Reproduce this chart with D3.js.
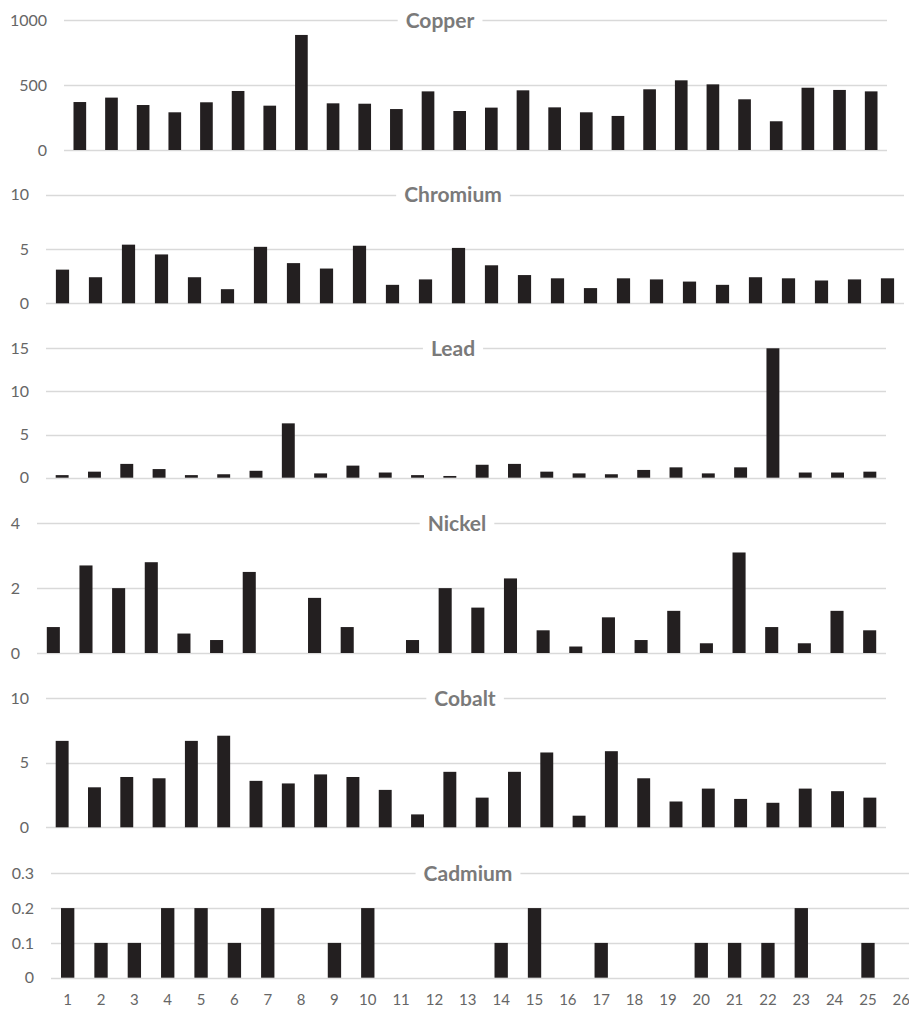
<!DOCTYPE html>
<html>
<head>
<meta charset="utf-8">
<script src="https://cdn.jsdelivr.net/npm/d3@7"></script>
<style>
  html, body { margin: 0; padding: 0; background: #fff; }
  svg { display: block; }
</style>
</head>
<body>
<svg id="chart" width="909" height="1009"></svg>
<script>
// ---- data ----
const categories = d3.range(1, 27).map(String);

const copper   = [369, 403, 346, 290, 367, 454, 341, 885, 359, 356, 315, 451, 300, 326, 459, 328, 290, 262, 467, 536, 505, 390, 221, 479, 462, 451];
const chromium = [3.1, 2.4, 5.4, 4.5, 2.4, 1.3, 5.2, 3.7, 3.2, 5.3, 1.7, 2.2, 5.1, 3.5, 2.6, 2.3, 1.4, 2.3, 2.2, 2.0, 1.7, 2.4, 2.3, 2.1, 2.2, 2.3];
const lead     = [0.3, 0.7, 1.6, 1.0, 0.3, 0.4, 0.8, 6.3, 0.5, 1.4, 0.6, 0.3, 0.2, 1.5, 1.6, 0.7, 0.5, 0.4, 0.9, 1.2, 0.5, 1.2, 15, 0.6, 0.6, 0.7];
const nickel   = [0.8, 2.7, 2.0, 2.8, 0.6, 0.4, 2.5, 0, 1.7, 0.8, 0, 0.4, 2.0, 1.4, 2.3, 0.7, 0.2, 1.1, 0.4, 1.3, 0.3, 3.1, 0.8, 0.3, 1.3, 0.7];
const cobalt   = [6.7, 3.1, 3.9, 3.8, 6.7, 7.1, 3.6, 3.4, 4.1, 3.9, 2.9, 1.0, 4.3, 2.3, 4.3, 5.8, 0.9, 5.9, 3.8, 2.0, 3.0, 2.2, 1.9, 3.0, 2.8, 2.3];
const cadmium  = [0.2, 0.1, 0.1, 0.2, 0.2, 0.1, 0.2, 0, 0.1, 0.2, 0, 0, 0, 0.1, 0.2, 0, 0.1, 0, 0, 0.1, 0.1, 0.1, 0.2, 0, 0.1, 0];

const copperTicks   = [0, 500, 1000];
const chromiumTicks = [0, 5, 10];
const leadTicks     = [0, 5, 10, 15];
const nickelTicks   = [0, 2, 4];
const cobaltTicks   = [0, 5, 10];
const cadmiumTicks  = [0, 0.1, 0.2, 0.3];

// ---- layout (positions only) ----
const panels = [
  { title: "Copper",   values: copper,   ticks: copperTicks,   x0: 64, x1: 887, yTop: 20,    yZero: 150,   titleX: 440 },
  { title: "Chromium", values: chromium, ticks: chromiumTicks, x0: 46, x1: 904, yTop: 194.7, yZero: 303.3, titleX: 453 },
  { title: "Lead",     values: lead,     ticks: leadTicks,     x0: 46, x1: 886, yTop: 348.3, yZero: 477.7, titleX: 453 },
  { title: "Nickel",   values: nickel,   ticks: nickelTicks,   x0: 37, x1: 886, yTop: 523.3, yZero: 653,   titleX: 457 },
  { title: "Cobalt",   values: cobalt,   ticks: cobaltTicks,   x0: 46, x1: 886, yTop: 698.3, yZero: 827.3, titleX: 465 },
  { title: "Cadmium",  values: cadmium,  ticks: cadmiumTicks,  x0: 51, x1: 918, yTop: 873.3, yZero: 977.7, titleX: 468, xAxis: true }
];

const svg = d3.select("#chart");
const FONT = "Lato, 'Open Sans', sans-serif";

panels.forEach(p => {
  const g = svg.append("g");
  const x = d3.scaleBand().domain(categories).range([p.x0, p.x1]).paddingInner(0.6).paddingOuter(0.3);
  const y = d3.scaleLinear().domain([0, d3.max(p.ticks)]).range([p.yZero, p.yTop]);

  // gridlines
  g.selectAll("line.grid").data(p.ticks).enter().append("line")
    .attr("x1", p.x0).attr("x2", p.x1)
    .attr("y1", d => Math.round(y(d)) + 0.5).attr("y2", d => Math.round(y(d)) + 0.5)
    .attr("stroke", "#d9d9d9").attr("stroke-width", 1.3);

  // y tick labels
  g.selectAll("text.tick").data(p.ticks).enter().append("text")
    .attr("x", p.x0 - 17).attr("y", d => y(d))
    .attr("dy", "0.35em")
    .attr("text-anchor", "end")
    .attr("font-family", FONT).attr("font-size", 16)
    .attr("fill", "#666")
    .text(d => d3.format("~g")(d));

  // bars
  g.selectAll("rect.bar").data(p.values.map((v, i) => ({ c: categories[i], v })))
    .enter().append("rect")
    .attr("x", d => x(d.c)).attr("width", x.bandwidth())
    .attr("y", d => y(d.v)).attr("height", d => y(0) - y(d.v))
    .attr("fill", "#231f20");

  // title with white backing
  const t = g.append("text")
    .attr("x", p.titleX).attr("y", p.yTop + 7.5)
    .attr("text-anchor", "middle")
    .attr("font-family", FONT).attr("font-weight", "bold").attr("font-size", 21)
    .attr("fill", "#7a7a7a")
    .text(p.title);
  const bb = t.node().getBBox();
  g.insert("rect", "text:last-of-type")
    .attr("x", bb.x - 8).attr("y", bb.y).attr("width", bb.width + 16).attr("height", bb.height)
    .attr("fill", "#fff");
  t.raise();

  if (p.xAxis) {
    g.selectAll("text.xlab").data(categories).enter().append("text")
      .attr("x", d => x(d) + x.bandwidth() / 2).attr("y", 1005)
      .attr("text-anchor", "middle")
      .attr("font-family", FONT).attr("font-size", 15)
      .attr("fill", "#666")
      .text(d => d);
  }
});
</script>
</body>
</html>
